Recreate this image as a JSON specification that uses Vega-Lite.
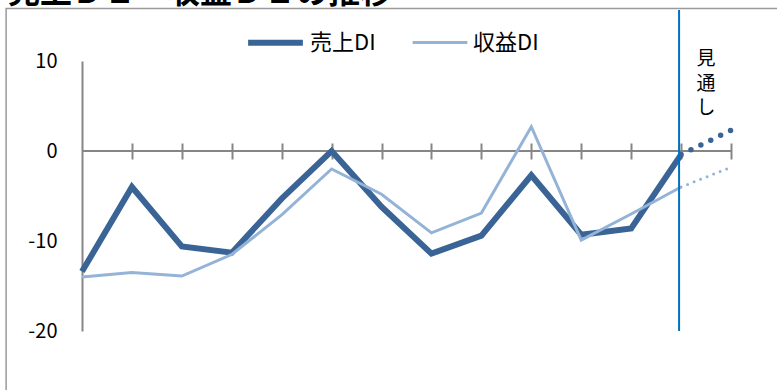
{
  "$schema": "https://vega.github.io/schema/vega-lite/v6.json",
  "width": 649,
  "height": 270,
  "autosize": {"type": "none"},
  "padding": {"left": 82, "top": 61, "right": 46, "bottom": 59},
  "background": "white",
  "config": {
    "font": "Noto Sans CJK JP",
    "view": {"stroke": null}
  },
  "datasets": {
    "di": [
      {"i": 0, "series": "売上DI", "v": -13.4},
      {"i": 1, "series": "売上DI", "v": -4.0},
      {"i": 2, "series": "売上DI", "v": -10.6},
      {"i": 3, "series": "売上DI", "v": -11.3},
      {"i": 4, "series": "売上DI", "v": -5.3},
      {"i": 5, "series": "売上DI", "v": 0.0},
      {"i": 6, "series": "売上DI", "v": -6.2},
      {"i": 7, "series": "売上DI", "v": -11.4},
      {"i": 8, "series": "売上DI", "v": -9.4},
      {"i": 9, "series": "売上DI", "v": -2.7},
      {"i": 10, "series": "売上DI", "v": -9.3},
      {"i": 11, "series": "売上DI", "v": -8.6},
      {"i": 12, "series": "売上DI", "v": -0.4},
      {"i": 0, "series": "収益DI", "v": -14.0},
      {"i": 1, "series": "収益DI", "v": -13.5},
      {"i": 2, "series": "収益DI", "v": -13.9},
      {"i": 3, "series": "収益DI", "v": -11.5},
      {"i": 4, "series": "収益DI", "v": -7.1},
      {"i": 5, "series": "収益DI", "v": -2.0},
      {"i": 6, "series": "収益DI", "v": -4.8},
      {"i": 7, "series": "収益DI", "v": -9.1},
      {"i": 8, "series": "収益DI", "v": -6.9},
      {"i": 9, "series": "収益DI", "v": 2.7},
      {"i": 10, "series": "収益DI", "v": -9.9},
      {"i": 11, "series": "収益DI", "v": -7.0},
      {"i": 12, "series": "収益DI", "v": -4.0}
    ],
    "outlook": [
      {"i": 12, "series": "売上DI", "v": -0.4},
      {"i": 13, "series": "売上DI", "v": 2.3},
      {"i": 12, "series": "収益DI", "v": -4.0},
      {"i": 13, "series": "収益DI", "v": -1.8}
    ],
    "single": [{}]
  },
  "layer": [
    {
      "description": "chart frame",
      "data": {"name": "single"},
      "mark": {"type": "rect", "fill": null, "stroke": "#9a9a9a", "strokeWidth": 1.5},
      "encoding": {
        "x": {"datum": -1.52},
        "x2": {"datum": 14.5},
        "y": {"datum": 15.83},
        "y2": {"datum": -30}
      }
    },
    {
      "description": "chart heading, sitting above the frame",
      "data": {"name": "single"},
      "mark": {
        "type": "text",
        "fontSize": 32,
        "fontWeight": "bold",
        "align": "left",
        "baseline": "alphabetic",
        "color": "black"
      },
      "encoding": {
        "x": {"datum": -1.48},
        "y": {"datum": 16.5},
        "text": {"value": "売上ＤＩ・収益ＤＩの推移"}
      }
    },
    {
      "description": "zero baseline",
      "data": {"name": "single"},
      "mark": {"type": "rule", "color": "#868686", "strokeWidth": 2},
      "encoding": {
        "x": {"datum": 0},
        "x2": {"datum": 13},
        "y": {"datum": 0}
      }
    },
    {
      "data": {"name": "di"},
      "mark": {"type": "line", "strokeJoin": "miter", "strokeCap": "butt"},
      "encoding": {
        "x": {
          "field": "i",
          "type": "quantitative",
          "scale": {"domain": [0, 13], "nice": false, "zero": false},
          "axis": {
            "orient": "top",
            "offset": -98,
            "values": [1, 2, 3, 4, 5, 6, 7, 8, 9, 10, 11, 12, 13],
            "labels": false,
            "domain": false,
            "grid": false,
            "ticks": true,
            "tickSize": 16,
            "tickWidth": 2,
            "tickColor": "#868686",
            "title": null
          }
        },
        "y": {
          "field": "v",
          "type": "quantitative",
          "scale": {"domain": [-20, 10], "nice": false, "zero": false},
          "axis": {
            "values": [-20, -10, 0, 10],
            "labelExpr": "replace(datum.label, '−', '-')",
            "ticks": false,
            "grid": false,
            "domainColor": "#868686",
            "domainWidth": 2,
            "labelFontSize": 20,
            "labelColor": "black",
            "labelPadding": 25,
            "title": null
          }
        },
        "color": {
          "field": "series",
          "type": "nominal",
          "scale": {"domain": ["売上DI", "収益DI"], "range": ["#3a6496", "#95b3d7"]},
          "legend": {
            "orient": "none",
            "legendX": 163,
            "legendY": -49,
            "direction": "horizontal",
            "title": null,
            "symbolType": "stroke",
            "symbolSize": 3000,
            "labelFontSize": 22,
            "labelColor": "black",
            "labelOffset": 4,
            "columnPadding": 30
          }
        },
        "strokeWidth": {
          "field": "series",
          "type": "nominal",
          "scale": {"domain": ["売上DI", "収益DI"], "range": [6, 3]},
          "legend": {
            "orient": "none",
            "legendX": 163,
            "legendY": -49,
            "direction": "horizontal",
            "title": null,
            "symbolType": "stroke",
            "symbolSize": 3000,
            "labelFontSize": 22,
            "labelColor": "black",
            "labelOffset": 4,
            "columnPadding": 30
          }
        },
        "order": {"field": "i", "type": "quantitative"}
      }
    },
    {
      "data": {"name": "outlook"},
      "transform": [{"filter": "datum.series === '売上DI'"}],
      "mark": {"type": "line", "color": "#3a6496", "strokeWidth": 5.5, "strokeCap": "round", "strokeDash": [0, 11]},
      "encoding": {
        "x": {"field": "i", "type": "quantitative", "title": null},
        "y": {"field": "v", "type": "quantitative", "title": null}
      }
    },
    {
      "data": {"name": "outlook"},
      "transform": [{"filter": "datum.series === '収益DI'"}],
      "mark": {"type": "line", "color": "#95b3d7", "strokeWidth": 3, "strokeCap": "round", "strokeDash": [0, 7]},
      "encoding": {
        "x": {"field": "i", "type": "quantitative", "title": null},
        "y": {"field": "v", "type": "quantitative", "title": null}
      }
    },
    {
      "description": "divider before the outlook period",
      "data": {"name": "single"},
      "mark": {"type": "rule", "color": "#0070c0", "strokeWidth": 2},
      "encoding": {
        "x": {"datum": 11.96},
        "y": {"datum": 15.67},
        "y2": {"datum": -20}
      }
    },
    {
      "data": {"name": "single"},
      "mark": {
        "type": "text",
        "fontSize": 19,
        "lineHeight": 24.5,
        "baseline": "middle",
        "align": "center",
        "color": "black"
      },
      "encoding": {
        "x": {"datum": 12.5},
        "y": {"datum": 10.2},
        "text": {"value": ["見", "通", "し"]}
      }
    }
  ]
}
